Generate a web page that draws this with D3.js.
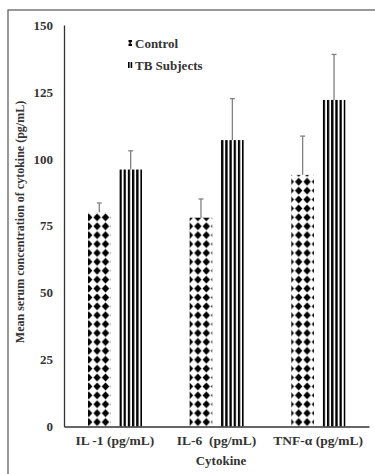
<!DOCTYPE html>
<html>
<head>
<meta charset="utf-8">
<script src="https://cdn.jsdelivr.net/npm/d3@7"></script>
<style>
  html, body { margin: 0; padding: 0; background: #ffffff; }
  svg { display: block; }
</style>
</head>
<body>
<svg id="chart" width="375" height="474"></svg>
<script>
// Chart data
const categories = ['IL -1 (pg/mL)', 'IL-6\u00a0\u00a0(pg/mL)', 'TNF-\u03b1 (pg/mL)'];
const seriesNames = ['Control', 'TB Subjects'];
const controlValues = [80, 78, 94];
const controlErrors = [3.5, 7, 14.5];
const tbValues = [96, 107, 122];
const tbErrors = [7, 15.5, 17];
const yTicks = [0, 25, 50, 75, 100, 125, 150];

const svg = d3.select('#chart');
const defs = svg.append('defs');

// Plot area
const plotLeft = 64, plotRight = 369, plotTop = 25, plotBottom = 426.5;
const textColor = '#333333';
const font = '"Liberation Serif", "Times New Roman", serif';

// Outer frame (only top and left edges are visible in the picture)
svg.append('rect')
    .attr('x', 8).attr('y', 10)
    .attr('width', 420).attr('height', 520)
    .attr('fill', 'none')
    .attr('stroke', '#555555')
    .attr('stroke-width', 1.2);

// Scales
const x = d3.scaleBand()
    .domain(categories)
    .range([plotLeft, plotRight]);

const x1 = d3.scaleBand()
    .domain(seriesNames)
    .range([24, 78])
    .paddingInner(0.28);

const y = d3.scaleLinear()
    .domain([0, 150])
    .range([plotBottom, plotTop]);

// Pattern for Control bars: black diamonds
const diamond = defs.append('pattern')
    .attr('id', 'diamonds')
    .attr('patternUnits', 'userSpaceOnUse')
    .attr('x', 0.5).attr('y', plotBottom)
    .attr('width', 8.4).attr('height', 8.9);
diamond.append('rect')
    .attr('width', 8.4).attr('height', 8.9)
    .attr('fill', '#ffffff');
diamond.append('path')
    .attr('d', 'M4.2,0.5 L7.9,4.45 L4.2,8.4 L0.5,4.45 Z')
    .attr('fill', '#000000');

// Stripe pattern for TB bars, one per bar so stripes start at the bar edge
function stripePattern(id, x0) {
    const p = defs.append('pattern')
        .attr('id', id)
        .attr('patternUnits', 'userSpaceOnUse')
        .attr('x', x0).attr('y', 0)
        .attr('width', 4.2).attr('height', 10);
    p.append('rect').attr('width', 4.2).attr('height', 10).attr('fill', '#ffffff');
    p.append('rect').attr('width', 2.3).attr('height', 10).attr('fill', '#000000');
}

// Build bar data
const bars = [];
categories.forEach((c, i) => {
    bars.push({ cat: c, series: 'Control', value: controlValues[i], err: controlErrors[i] });
    bars.push({ cat: c, series: 'TB Subjects', value: tbValues[i], err: tbErrors[i] });
});

bars.forEach((d, i) => {
    d.x = x(d.cat) + x1(d.series);
    if (d.series === 'TB Subjects') {
        d.fill = 'stripes' + i;
        stripePattern(d.fill, d.x);
    } else {
        d.fill = 'diamonds';
    }
});

// Bars
svg.append('g')
    .selectAll('rect')
    .data(bars)
    .enter().append('rect')
    .attr('x', d => d.x)
    .attr('y', d => y(d.value))
    .attr('width', x1.bandwidth())
    .attr('height', d => y(0) - y(d.value))
    .attr('fill', d => `url(#${d.fill})`);

// Error bars (upper only)
const errG = svg.append('g')
    .attr('stroke', '#808080')
    .attr('stroke-width', 1.3);
errG.selectAll('line.stem')
    .data(bars)
    .enter().append('line')
    .attr('class', 'stem')
    .attr('x1', d => d.x + x1.bandwidth() / 2)
    .attr('x2', d => d.x + x1.bandwidth() / 2)
    .attr('y1', d => y(d.value))
    .attr('y2', d => y(d.value + d.err));
errG.selectAll('line.cap')
    .data(bars)
    .enter().append('line')
    .attr('class', 'cap')
    .attr('x1', d => d.x + x1.bandwidth() / 2 - 2.5)
    .attr('x2', d => d.x + x1.bandwidth() / 2 + 2.5)
    .attr('y1', d => y(d.value + d.err))
    .attr('y2', d => y(d.value + d.err));

// Y axis
const yAxis = svg.append('g')
    .attr('transform', `translate(${plotLeft},0)`)
    .call(d3.axisLeft(y).tickValues(yTicks).tickSize(0).tickPadding(11));
yAxis.select('.domain')
    .attr('stroke', '#333333')
    .attr('stroke-width', 1.3);
yAxis.selectAll('text')
    .attr('fill', textColor)
    .style('font-family', font)
    .style('font-size', '13px')
    .style('font-weight', 'bold');

// X axis
const xAxis = svg.append('g')
    .attr('transform', `translate(0,${plotBottom})`)
    .call(d3.axisBottom(x).tickSize(0).tickPadding(9));
xAxis.select('.domain')
    .attr('stroke', '#333333')
    .attr('stroke-width', 1.3);
xAxis.selectAll('text')
    .attr('fill', textColor)
    .style('font-family', font)
    .style('font-size', '13.5px')
    .style('font-weight', 'bold');

// Axis titles
svg.append('text')
    .attr('x', 221)
    .attr('y', 465)
    .attr('text-anchor', 'middle')
    .attr('fill', textColor)
    .style('font-family', font)
    .style('font-size', '13px')
    .style('font-weight', 'bold')
    .text('Cytokine');

svg.append('text')
    .attr('transform', 'translate(24,222) rotate(-90)')
    .attr('text-anchor', 'middle')
    .attr('fill', textColor)
    .style('font-family', font)
    .style('font-size', '12px')
    .style('font-weight', 'bold')
    .text('Mean serum concentration of cytokine (pg/mL)');

// Legend
const legend = svg.append('g');
seriesNames.forEach((name, i) => {
    const ly = 43 + i * 22;
    const row = legend.append('g').attr('transform', `translate(128,${ly})`);
    if (i === 0) {
        row.append('path')
            .attr('d', 'M0.5,-3 L4,-3 L4,-1 L2,0 L4,1 L4,3 L0.5,3 L0.5,1 L2,0 L0.5,-1 Z')
            .attr('fill', '#000');
    } else {
        row.append('rect').attr('x', 0).attr('y', -3).attr('width', 1.6).attr('height', 6).attr('fill', '#000');
        row.append('rect').attr('x', 2.6).attr('y', -3).attr('width', 1.6).attr('height', 6).attr('fill', '#000');
    }
    row.append('text')
        .attr('x', 7)
        .attr('y', 4.5)
        .attr('fill', textColor)
        .style('font-family', font)
        .style('font-size', '13px')
        .style('font-weight', 'bold')
        .text(name);
});
</script>
</body>
</html>
